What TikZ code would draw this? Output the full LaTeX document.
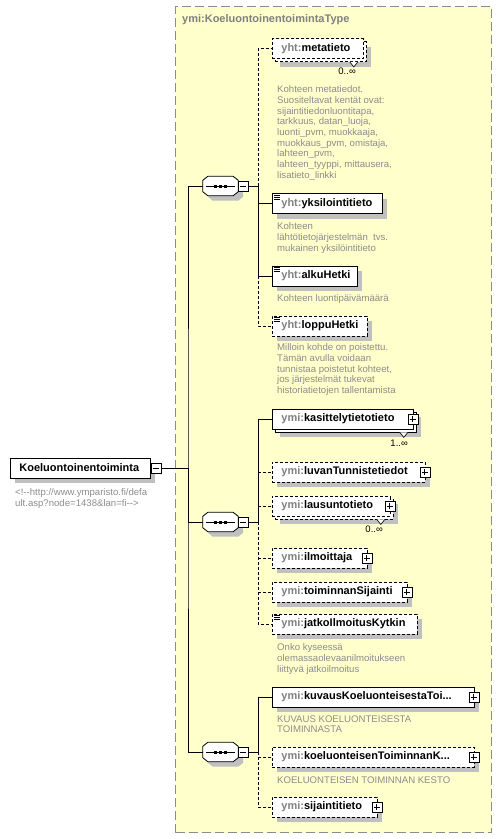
\documentclass[tikz,border=0pt]{standalone}
\usepackage{fontspec}
\setmainfont{Liberation Sans}
\usetikzlibrary{shadows,calc}
\definecolor{cyel}{RGB}{255,255,204}
\definecolor{cframe}{RGB}{140,140,140}
\definecolor{cpre}{RGB}{128,128,128}
\definecolor{cdesc}{RGB}{140,140,140}
\definecolor{cshad}{RGB}{192,192,192}
\newcommand{\pfx}[1]{\textcolor{cpre}{#1:}}
\begin{document}
\begin{tikzpicture}[x=1pt,y=-1pt,
  every node/.style={inner sep=0pt},
  conn/.style={line width=0.8pt},
  opt/.style={dash pattern=on 3pt off 2pt},
  elem/.style={draw, fill=white, line width=0.8pt, minimum height=20pt, inner xsep=9pt, inner ysep=0pt,
    anchor=west, align=left, font=\fontsize{11}{13}\selectfont\bfseries},
  single/.style={drop shadow={shadow xshift=5pt, shadow yshift=-5pt, fill=cshad, opacity=1}},
  multi/.style={drop shadow={shadow xshift=8pt, shadow yshift=-8pt, fill=cshad, opacity=1},
    copy shadow={shadow xshift=3pt, shadow yshift=-3pt}},
  doc/.style={path picture={\foreach \dy in {1.5,3.5,5.5}{\draw[line width=0.7pt,solid] ([shift={(1.5pt,-\dy pt)}]path picture bounding box.north west) -- ++(6pt,0pt);}}},
  pmbox/.style={draw, solid, fill=white, minimum size=10pt, inner sep=0pt, line width=0.6pt},
  minusb/.style={pmbox, path picture={\draw[line width=0.8pt] ([xshift=2pt]path picture bounding box.west) -- ([xshift=-2pt]path picture bounding box.east);}},
  plusb/.style={pmbox, path picture={\draw[line width=0.8pt] ([xshift=2pt]path picture bounding box.west) -- ([xshift=-2pt]path picture bounding box.east) ([yshift=-2pt]path picture bounding box.north) -- ([yshift=2pt]path picture bounding box.south);}},
  seqs/.style={rectangle, minimum width=35pt, minimum height=19pt, inner sep=0pt},
  octa/.style={fill=white, line width=0.8pt, drop shadow={shadow xshift=5pt, shadow yshift=-5pt, fill=cshad, opacity=1}},
  desc/.style={anchor=north west, align=left, text=cdesc, font=\fontsize{9.6}{10.7}\selectfont},
  mult/.style={anchor=north east, font=\fontsize{9.5}{11}\selectfont},
]
\useasboundingbox (0,0) rectangle (502,839);

% complex type container
\node[draw=cframe, fill=cyel, line width=1pt, dash pattern=on 9pt off 4pt, anchor=north west,
  minimum width=316pt, minimum height=826pt] (ctype) at (175,6) {};
\node[anchor=base west, text=cpre, font=\fontsize{11}{13}\selectfont\bfseries] (title) at (182,22) {ymi:KoeluontoinentoimintaType};

% main element
\node[elem, single, text width=122pt] (main) at (10,468) {Koeluontoinentoiminta};
\node[minusb] (mm) at (156,468) {};
\node[desc, text=cdesc] (maindesc) at (15,488.5) {\rule{0pt}{7pt}<!-{}-http://www.ymparisto.fi/defa\\ult.asp?node=1438\&lan=fi-{}->};

% sequences
\node[seqs] (s1) at (220.5,186) {};
\node[seqs] (s2) at (220.5,522) {};
\node[seqs] (s3) at (220.5,752) {};
\foreach \s in {s1,s2,s3}{
  \draw[octa] ([xshift=5pt]\s.north west) -- ([xshift=-5pt]\s.north east) -- ([yshift=-4pt]\s.north east)
    -- ([yshift=4pt]\s.south east) -- ([xshift=-5pt]\s.south east) -- ([xshift=5pt]\s.south west)
    -- ([yshift=4pt]\s.south west) -- ([yshift=-4pt]\s.north west) -- cycle;
  \draw[line width=0.8pt] ([xshift=3pt]\s.west) -- ([xshift=-3pt]\s.east);
  \foreach \dx in {-5,0,5}{\fill ([xshift=\dx pt]\s.center) +(-1.5,-1.5) rectangle +(1.5,1.5);}
}
\node[minusb] (m1) at (243,186) {};
\node[minusb] (m2) at (243,522) {};
\node[minusb] (m3) at (243,752) {};

\coordinate (trunk) at (188,468);
\coordinate (b1) at (258,186);
\coordinate (b2) at (258,522);
\coordinate (b3) at (258,752);

% --- sequence 1 children
\node[elem, opt, multi, text width=73pt] (meta) at (272,48.5) {\pfx{yht}metatieto};
\node[elem, single, doc, text width=92pt] (yks) at (272,203.5) {\pfx{yht}yksilointitieto};
\node[elem, single, doc, text width=67pt] (alku) at (272,276) {\pfx{yht}alkuHetki};
\node[elem, opt, single, doc, text width=77pt] (loppu) at (272,326) {\pfx{yht}loppuHetki};

\draw[fill=white, line width=0.6pt] ([shift={(-14pt,-3pt)}]meta.south east) -- ++(4pt,-5pt) -- ++(4pt,5pt);
\node[mult] (meta-m) at (356,67.5) {0..∞};

\node[desc] (meta-d) at (277,85.5) {\rule{0pt}{7pt}Kohteen metatiedot.\\Suositeltavat kentät ovat:\\sijaintitiedonluontitapa,\\tarkkuus, datan\_luoja,\\luonti\_pvm, muokkaaja,\\muokkaus\_pvm, omistaja,\\lahteen\_pvm,\\lahteen\_tyyppi, mittausera,\\lisatieto\_linkki};
\node[desc] (yks-d) at (277,222.5) {\rule{0pt}{7pt}Kohteen\\lähtötietojärjestelmän\ \ tvs.\\mukainen yksilöintitieto};
\node[desc] (alku-d) at (277,294.5) {\rule{0pt}{7pt}Kohteen luontipäivämäärä};
\node[desc] (loppu-d) at (277,343.5) {\rule{0pt}{7pt}Milloin kohde on poistettu.\\Tämän avulla voidaan\\tunnistaa poistetut kohteet,\\jos järjestelmät tukevat\\historiatietojen tallentamista};

% --- sequence 2 children
\node[elem, multi, text width=123pt] (kas) at (272,419) {\pfx{ymi}kasittelytietotieto};
\node[plusb] (kas-p) at ([xshift=-1pt]kas.east) {};
\draw[fill=white, line width=0.6pt] ([shift={(-14pt,-3pt)}]kas.south east) -- ++(4pt,-5pt) -- ++(4pt,5pt);
\node[mult] (kas-m) at (408,439.5) {1..∞};

\node[elem, opt, single, text width=135pt] (luv) at (272,472) {\pfx{ymi}luvanTunnistetiedot};
\node[plusb] (luv-p) at ([xshift=-1pt]luv.east) {};

\node[elem, opt, multi, text width=100pt] (lau) at (272,506) {\pfx{ymi}lausuntotieto};
\node[plusb] (lau-p) at ([xshift=-1pt]lau.east) {};
\draw[fill=white, line width=0.6pt] ([shift={(-14pt,-3pt)}]lau.south east) -- ++(4pt,-5pt) -- ++(4pt,5pt);
\node[mult] (lau-m) at (383,525.5) {0..∞};

\node[elem, opt, single, text width=77pt] (ilm) at (272,558) {\pfx{ymi}ilmoittaja};
\node[plusb] (ilm-p) at ([xshift=-1pt]ilm.east) {};

\node[elem, opt, single, text width=117pt] (toi) at (272,592) {\pfx{ymi}toiminnanSijainti};
\node[plusb] (toi-p) at ([xshift=-1pt]toi.east) {};

\node[elem, opt, single, doc, text width=127pt] (jat) at (272,624) {\pfx{ymi}jatkoIlmoitusKytkin};
\node[desc] (jat-d) at (277,643.5) {\rule{0pt}{7pt}Onko kyseessä\\olemassaolevaanilmoitukseen\\liittyvä jatkoilmoitus};

% --- sequence 3 children
\node[elem, single, text width=184pt] (kuv) at (272,697) {\pfx{ymi}kuvausKoeluonteisestaToi...};
\node[plusb] (kuv-p) at ([xshift=-1pt]kuv.east) {};
\node[desc] (kuv-d) at (277,715) {\rule{0pt}{7pt}KUVAUS KOELUONTEISESTA\\TOIMINNASTA};

\node[elem, opt, single, text width=184pt] (koe) at (272,757) {\pfx{ymi}koeluonteisenToiminnanK...};
\node[plusb] (koe-p) at ([xshift=-1pt]koe.east) {};
\node[desc] (koe-d) at (277,776) {\rule{0pt}{7pt}KOELUONTEISEN TOIMINNAN KESTO};

\node[elem, opt, single, text width=87pt] (sij) at (272,807) {\pfx{ymi}sijaintitieto};
\node[plusb] (sij-p) at ([xshift=-1pt]sij.east) {};

% --- connectors
\draw[conn] (mm.east) -- (trunk);
\draw[conn] (s1.west) -| (trunk) |- (s3.west);
\draw[conn] (trunk) |- (s2.west);

\draw[conn] (m1.east) -- (b1);
\draw[conn, opt] (b1) |- (meta.west);
\draw[conn] (b1) |- (alku.west);
\draw[conn] (b1 |- yks.west) -- (yks.west);
\draw[conn, opt] (b1 |- alku.west) |- (loppu.west);

\draw[conn] (m2.east) -- (b2);
\draw[conn] (b2) |- (kas.west);
\draw[conn, opt] (b2 |- luv.west) -- (luv.west);
\draw[conn, opt] (b2 |- lau.west) -- (lau.west);
\draw[conn, opt] (b2) |- (jat.west);
\draw[conn, opt] (b2 |- ilm.west) -- (ilm.west);
\draw[conn, opt] (b2 |- toi.west) -- (toi.west);

\draw[conn] (m3.east) -- (b3);
\draw[conn] (b3) |- (kuv.west);
\draw[conn, opt] (b3) |- (sij.west);
\draw[conn, opt] (b3 |- koe.west) -- (koe.west);
\end{tikzpicture}
\end{document}
